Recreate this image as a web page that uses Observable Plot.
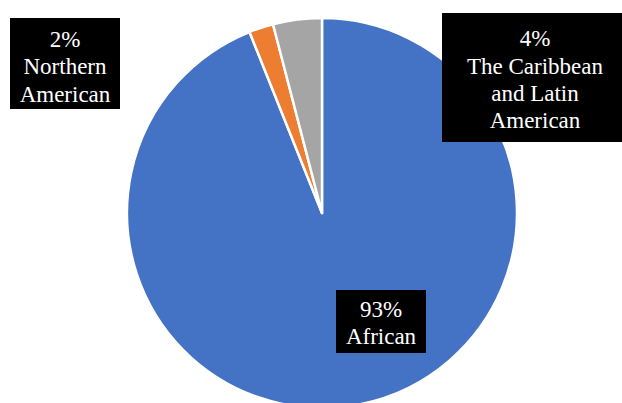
<!DOCTYPE html>
<html>
<head>
<meta charset="utf-8">
<script src="https://cdn.jsdelivr.net/npm/d3@7"></script>
<script src="https://cdn.jsdelivr.net/npm/@observablehq/plot@0.6"></script>
<style>
  html, body { margin: 0; padding: 0; background: #fff; }
  #chart svg { display: block; }
</style>
</head>
<body>
<div id="chart"></div>
<script>
// ---- data ----
const categories = ["African", "Northern American", "The Caribbean and Latin American"];
const shares = [93, 2, 4];
const labelTexts = ["93%\nAfrican", "2%\nNorthern\nAmerican", "4%\nThe Caribbean\nand Latin\nAmerican"];
const colors = ["#4472C4", "#ED7D31", "#A5A5A5"];

// ---- layout (pixels) ----
const W = 622, H = 403;
const CX = 322, CY = 213, R = 195;
const labelBoxes = [
  {x1: 336, x2: 426, y1: 290, y2: 353, tx: 381, ty: 323},
  {x1: 10, x2: 120, y1: 18, y2: 109, tx: 65, ty: 67},
  {x1: 442, x2: 622, y1: 13, y2: 142, tx: 535, ty: 80}
];
const LINE_H = 27.4, FONT_PX = 23;

const slices = categories.map((c, i) => ({category: c, value: shares[i], color: colors[i]}));
const arcs = d3.pie().sort(null).value(d => d.value).startAngle(0).endAngle(2 * Math.PI)(slices);
const labels = categories.map((c, i) => ({category: c, text: labelTexts[i], ...labelBoxes[i]}));

function pieMark(index, scales) {
  const sx = scales && scales.x ? scales.x : (v => v);
  const sy = scales && scales.y ? scales.y : (v => v);
  const cx = sx(CX), cy = sy(CY);
  const r = sx(CX + R) - cx;
  const arc = d3.arc().innerRadius(0).outerRadius(r);
  const g = d3.create("svg:g").attr("transform", `translate(${cx},${cy})`);
  g.selectAll("path").data(arcs).join("path")
    .attr("d", arc)
    .attr("fill", d => d.data.color)
    .attr("stroke", "#fff")
    .attr("stroke-width", 2.5)
    .attr("stroke-linejoin", "round");
  return g.node();
}

// label text drawn with explicit serif font on each line
function labelMark(index, scales) {
  const sx = scales && scales.x ? scales.x : (v => v);
  const sy = scales && scales.y ? scales.y : (v => v);
  const g = d3.create("svg:g");
  labels.forEach(d => {
    const lines = d.text.split("\n");
    const t = g.append("text")
      .attr("font-family", "Liberation Serif")
      .attr("font-size", FONT_PX)
      .attr("fill", "#fff")
      .attr("text-anchor", "middle");
    const first = sy(d.ty) - (lines.length - 1) / 2 * LINE_H + 0.32 * FONT_PX;
    lines.forEach((line, k) => {
      t.append("tspan").attr("x", sx(d.tx)).attr("y", first + k * LINE_H).text(line);
    });
  });
  return g.node();
}

const chart = Plot.plot({
  width: W,
  height: H,
  margin: 0,
  x: {type: "identity", axis: null},
  y: {type: "identity", axis: null},
  style: {background: "#fff"},
  marks: [
    pieMark,
    Plot.rect(labels, {x1: "x1", x2: "x2", y1: "y1", y2: "y2", fill: "#000"}),
    labelMark
  ]
});
document.getElementById("chart").appendChild(chart);
</script>
</body>
</html>
